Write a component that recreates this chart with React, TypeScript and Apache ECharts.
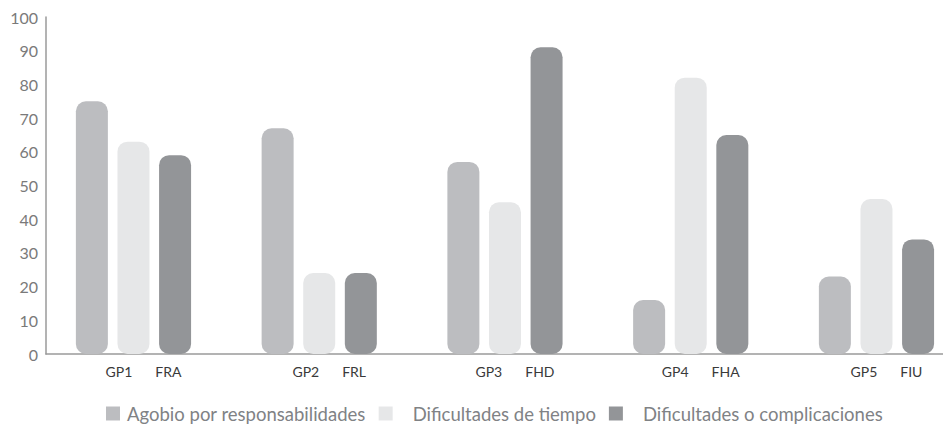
import React, { useEffect, useRef } from "react";
import * as echarts from "echarts";

const categories = ["GP1", "GP2", "GP3", "GP4", "GP5"];
const subLabels = ["FRA", "FRL", "FHD", "FHA", "FIU"];
const seriesNames = [
  "Agobio por responsabilidades",
  "Dificultades de tiempo",
  "Dificultades o complicaciones",
];
const agobio = [75, 67, 57, 16, 23];
const tiempo = [63, 24, 45, 82, 46];
const complicaciones = [59, 24, 91, 65, 34];
const colors = ["#BCBDC0", "#E6E7E8", "#939598"];
const yMin = 0;
const yMax = 100;
const yInterval = 10;

const FONT = "Lato";

export default function App() {
  const ref = useRef<HTMLDivElement>(null);
  useEffect(() => {
    if (!ref.current) return;
    const chart = echarts.init(ref.current, undefined, { renderer: "svg" });
    const values = [agobio, tiempo, complicaciones];
    chart.setOption({
      animation: false,
      backgroundColor: "#ffffff",
      textStyle: { fontFamily: FONT },
      grid: [
        { left: 40.6, top: 17, bottom: 71, right: 0.65, containLabel: false },
        { left: 46, top: 17, bottom: 71, right: 27, containLabel: false },
      ],
      xAxis: [
        {
          type: "category",
          gridIndex: 0,
          data: categories,
          axisLine: { show: false },
          axisTick: { show: false },
          axisLabel: {
            margin: 10,
            padding: [0, 0, 0, 20],
            formatter: (value: string, index: number) =>
              `{a|${value}}{b|${subLabels[index]}}`,
            rich: {
              a: { fontFamily: FONT, fontSize: 14, color: "#3a3a3a" },
              b: {
                fontFamily: FONT,
                fontSize: 14,
                color: "#3a3a3a",
                padding: [0, 0, 0, 23],
              },
            },
          },
        },
        {
          type: "category",
          gridIndex: 1,
          data: [""],
          axisLine: { show: true, lineStyle: { color: "#9a9a9a", width: 1.5 } },
          axisTick: { show: false },
          axisLabel: { show: false },
        },
      ],
      yAxis: [
        {
          type: "value",
          gridIndex: 0,
          min: yMin,
          max: yMax,
          interval: yInterval,
          show: false,
          splitLine: { show: false },
        },
        {
          type: "value",
          gridIndex: 1,
          min: yMin,
          max: yMax,
          interval: yInterval,
          axisLine: { show: true, lineStyle: { color: "#9a9a9a", width: 1.5 } },
          axisTick: { show: false },
          splitLine: { show: false },
          axisLabel: {
            margin: 8,
            fontFamily: FONT,
            fontSize: 16,
            color: "#7a7a7a",
          },
        },
      ],
      legend: {
        left: 101,
        top: 399,
        itemWidth: 14,
        itemHeight: 14,
        itemGap: 13,
        icon: "rect",
        data: seriesNames,
        formatter: (name: string) =>
          name === seriesNames[0] ? `{a|${name}}` : `{b|${name}}`,
        textStyle: {
          fontFamily: FONT,
          fontSize: 18.5,
          color: "#808285",
          rich: {
            a: { fontFamily: FONT, fontSize: 18.5, color: "#808285", padding: [0, 0, 0, 2] },
            b: { fontFamily: FONT, fontSize: 18.5, color: "#808285", padding: [0, 0, 0, 15] },
          },
        },
      },
      series: seriesNames.map((name, i) => ({
        name,
        type: "bar",
        xAxisIndex: 0,
        yAxisIndex: 0,
        data: values[i],
        barWidth: 32,
        barGap: "30%",
        itemStyle: { color: colors[i], borderRadius: 10 },
      })),
    });
    return () => chart.dispose();
  }, []);
  return (
    <div
      ref={ref}
      style={{ position: "fixed", left: 0, top: 0, width: 970, height: 425 }}
    />
  );
}
